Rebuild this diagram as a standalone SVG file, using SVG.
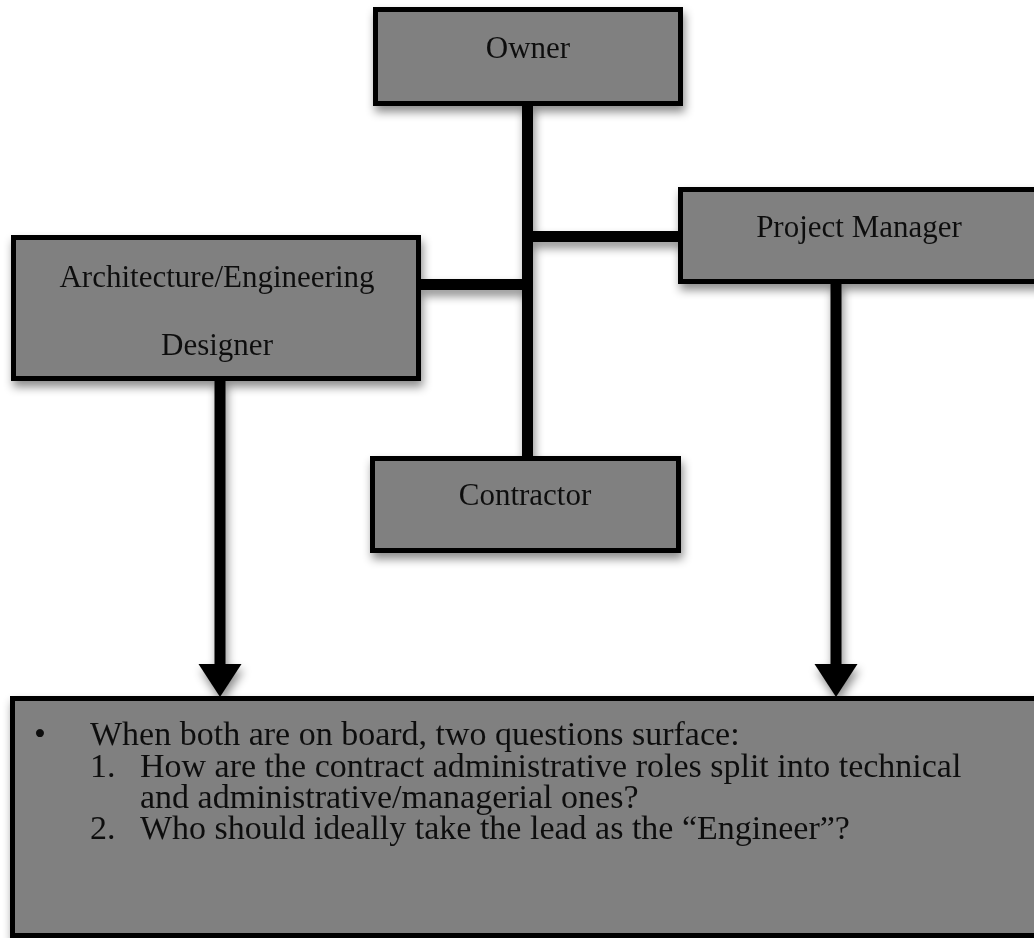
<svg xmlns="http://www.w3.org/2000/svg" width="1034" height="938" viewBox="0 0 1034 938">
  <defs>
    <filter id="shadow" x="-10%" y="-10%" width="130%" height="140%">
      <feDropShadow dx="2" dy="6" stdDeviation="5" flood-color="#000" flood-opacity="0.45"/>
    </filter>
    <marker id="head" markerUnits="userSpaceOnUse" markerWidth="34" markerHeight="44" refX="0" refY="21.5" orient="auto">
      <path d="M0,0 L33,21.5 L0,43 Z" fill="#000"/>
    </marker>
    <style>
      .box { fill: #808080; stroke: #000; stroke-width: 5; }
      .label { font-family: "Liberation Serif", "Times New Roman", serif; font-size: 31px; fill: #111; text-anchor: middle; }
      .body { font-family: "Liberation Serif", "Times New Roman", serif; font-size: 34px; fill: #111; }
      .wire { stroke: #000; stroke-width: 11; fill: none; stroke-linecap: butt; }
    </style>
  </defs>

  <rect width="1034" height="938" fill="#fff"/>

  <!-- connectors -->
  <g id="connectors" filter="url(#shadow)">
    <line class="wire" x1="527.5" y1="104" x2="527.5" y2="458"/>
    <line class="wire" x1="533" y1="236.5" x2="680" y2="236.5"/>
    <line class="wire" x1="420" y1="284.5" x2="522" y2="284.5"/>
    <line class="wire" x1="220" y1="379" x2="220" y2="664" marker-end="url(#head)"/>
    <line class="wire" x1="836" y1="282" x2="836" y2="664" marker-end="url(#head)"/>
  </g>

  <!-- nodes -->
  <g id="owner" filter="url(#shadow)">
    <rect class="box" x="375.5" y="9.5" width="305" height="94"/>
    <text class="label" x="528" y="58">Owner</text>
  </g>

  <g id="project-manager" filter="url(#shadow)">
    <rect class="box" x="680.5" y="189.5" width="370" height="92"/>
    <text class="label" x="859" y="237">Project Manager</text>
  </g>

  <g id="designer" filter="url(#shadow)">
    <rect class="box" x="13.5" y="237.5" width="405" height="141"/>
    <text class="label" x="217" y="287">Architecture/Engineering</text>
    <text class="label" x="217" y="355">Designer</text>
  </g>

  <g id="contractor" filter="url(#shadow)">
    <rect class="box" x="372.5" y="458.5" width="306" height="92"/>
    <text class="label" x="525" y="505">Contractor</text>
  </g>

  <g id="questions" filter="url(#shadow)">
    <rect class="box" x="12.5" y="698.5" width="1040" height="237"/>
    <text class="body" x="34" y="745">•</text>
    <text class="body" x="90" y="745">When both are on board, two questions surface:</text>
    <text class="body" x="90" y="777">1.</text>
    <text class="body" x="140" y="777">How are the contract administrative roles split into technical</text>
    <text class="body" x="140" y="808">and administrative/managerial ones?</text>
    <text class="body" x="90" y="839">2.</text>
    <text class="body" x="140" y="839">Who should ideally take the lead as the “Engineer”?</text>
  </g>
</svg>
